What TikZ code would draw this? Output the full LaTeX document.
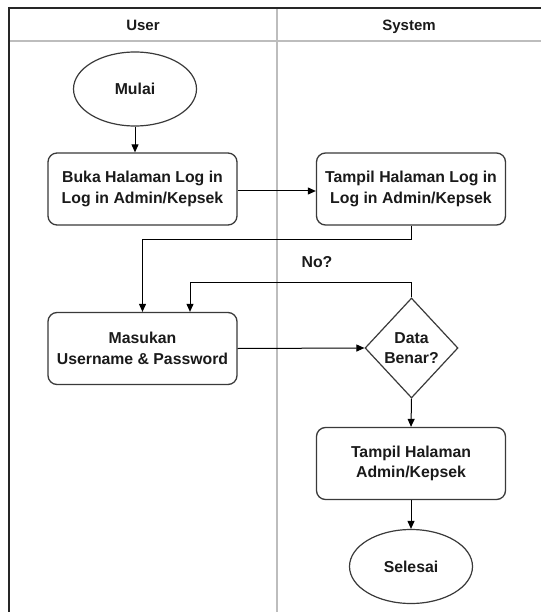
\documentclass[tikz,border=0pt]{standalone}
\usepackage{fontspec}
\setmainfont{Liberation Sans}
\usetikzlibrary{shapes.geometric,arrows.meta}

\definecolor{ink}{HTML}{1A1A1A}
\definecolor{edge}{HTML}{3A3A3A}
\definecolor{lane}{HTML}{BDBDBD}

\tikzset{
  lbl/.style={font=\bfseries\fontsize{15.8}{20.5}\selectfont, text=ink, align=center},
  procbox/.style={lbl, draw=edge, line width=1.3pt, fill=white, rounded corners=9pt,
    minimum width=189pt, minimum height=72pt, inner sep=0pt},
  terminal/.style={lbl, draw=edge, line width=1.2pt, fill=white, ellipse,
    minimum width=123pt, minimum height=74pt, inner sep=0pt},
  decision/.style={lbl, draw=edge, line width=1.2pt, fill=white, diamond,
    minimum width=93pt, minimum height=100pt, inner sep=0pt},
  flow/.style={draw=black, line width=1pt, -{Triangle[length=8pt,width=7pt]}},
  lanehead/.style={font=\bfseries\fontsize{15}{18}\selectfont, text=ink, anchor=base, inner sep=0pt},
}

\begin{document}
\begin{tikzpicture}[x=1pt, y=-1pt]
  \useasboundingbox (0,0) rectangle (541,612);
  \fill[white] (0,0) rectangle (541,612);

  % swimlane frame
  \draw[lane, line width=2pt] (9,41) -- (541,41);
  \draw[lane, line width=2pt] (277,8) -- (277,612);
  \draw[black!85, line width=2pt] (9,8) -- (541,8);
  \draw[black!85, line width=2.2pt] (9,7) -- (9,612);

  \node[lanehead] (hUser) at (143,30.5) {User};
  \node[lanehead] (hSystem) at (409,30.5) {System};

  % steps
  \node[terminal] (mulai) at (135,89) {Mulai};
  \node[procbox] (buka) at (142.5,189) {Buka Halaman Log in\\Log in Admin/Kepsek};
  \node[procbox] (tampil) at (411,189) {Tampil Halaman Log in\\Log in Admin/Kepsek};
  \node[procbox] (masukan) at (142.5,348.5) {Masukan\\Username \& Password};
  \node[decision] (data) at (411.5,348) {Data\\Benar?};
  \node[procbox] (admin) at (411,463.5) {Tampil Halaman\\Admin/Kepsek};
  \node[terminal] (selesai) at (411,566.5) {Selesai};

  \node[lbl] (no) at (317,262) {No?};

  % connectors
  \draw[flow] (mulai.south) -- (mulai.south |- buka.north);
  \draw[flow] (buka.east |- 0,191) -- (tampil.west |- 0,191);
  \draw[flow] (tampil.south) -- ++(0,14) -| (masukan.north);
  \draw[flow] (masukan.east) -- (data.west);
  \draw[flow] (data.north) -- ++(0,-15) -| ([xshift=47.5pt]masukan.north);
  \draw[flow] (data.south) -- (admin.north);
  \draw[flow] (admin.south) -- (selesai.north);
\end{tikzpicture}
\end{document}
